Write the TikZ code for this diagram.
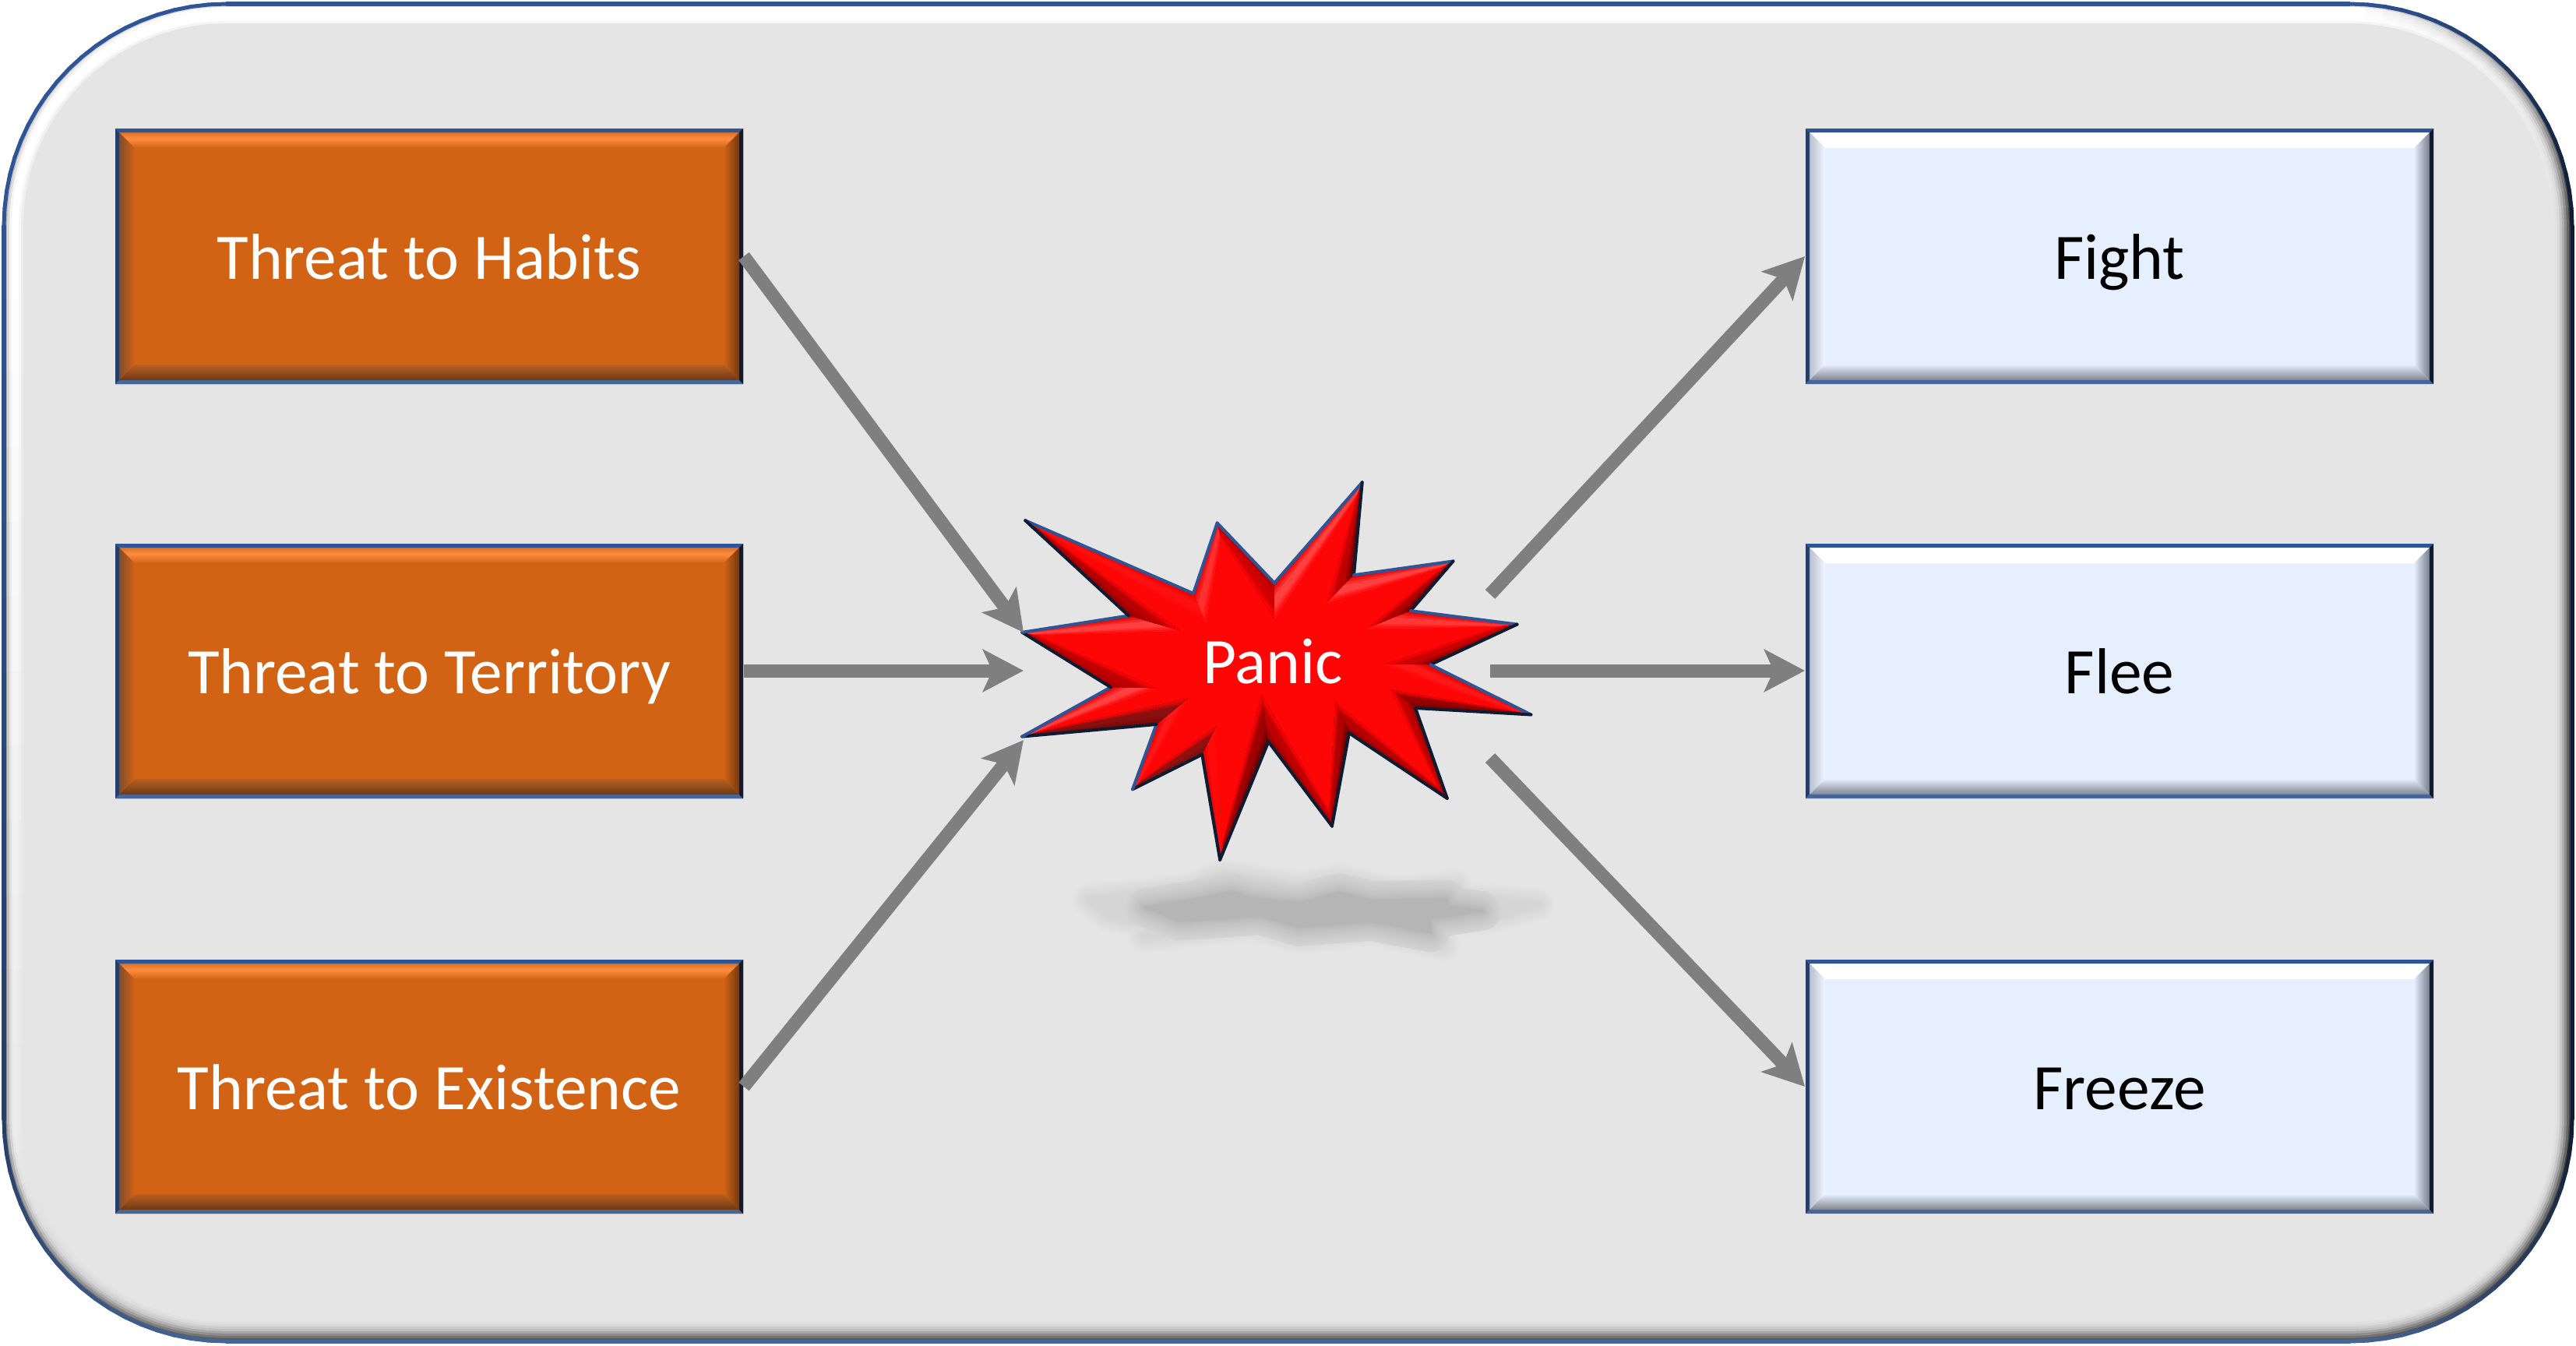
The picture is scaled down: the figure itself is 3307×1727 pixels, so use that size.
\documentclass[tikz,border=0pt]{standalone}
\usepackage{fontspec}
\setmainfont[Ligatures=NoCommon]{Carlito}
\usetikzlibrary{arrows.meta,calc}
\definecolor{edgeblue}{HTML}{2F5597}
\definecolor{edgenavy}{HTML}{0F1B30}
\definecolor{edgemid}{HTML}{466699}
\definecolor{edgeleft}{HTML}{263F68}
\definecolor{panelgray}{HTML}{E5E5E5}
\definecolor{orangeface}{HTML}{D26315}
\definecolor{orangelight}{HTML}{FF8C3E}
\definecolor{orangetop}{HTML}{C86012}
\definecolor{orangedark}{HTML}{5A3012}
\definecolor{orangeleft}{HTML}{9A4C12}
\definecolor{orangeband}{HTML}{B9601F}
\definecolor{blueface}{HTML}{E6EFFD}
\definecolor{bluepale}{HTML}{F2F7FF}
\definecolor{blueleft}{HTML}{A8B0C2}
\definecolor{bluedark}{HTML}{5A6270}
\definecolor{blueband}{HTML}{C8CEDA}
\definecolor{bluelow}{HTML}{767B85}
\definecolor{starface}{HTML}{FF0606}
\definecolor{arrowgray}{HTML}{7F7F7F}
\tikzset{
  x=0.01cm,y=-0.01cm,
  boxtext/.style={font=\fontsize{23.7pt}{28pt}\selectfont,text height=17pt,text depth=0pt},
  hazard/.style={boxtext,text=white,minimum width=8.06cm,minimum height=3.28cm,inner sep=0pt},
  response/.style={boxtext,text=black,minimum width=8.06cm,minimum height=3.28cm,inner sep=0pt},
  flow/.style={draw=arrowgray,line width=0.17cm,-{Stealth[length=0.52cm,width=0.54cm,inset=0.12cm,fill=arrowgray]}},
}
\newcommand{\boxedge}[5]{%
  \fill[#5] (#1,#2) -- ({#1+5},{#2+5}) -- ({#1+5},{#4-5}) -- (#1,#4) -- cycle;
  \fill[edgeblue] (#1,#2) -- (#3,#2) -- ({#3-5},{#2+5}) -- ({#1+5},{#2+5}) -- cycle;
  \fill[edgemid] (#1,#4) -- (#3,#4) -- ({#3-5},{#4-5}) -- ({#1+5},{#4-5}) -- cycle;
  \fill[edgenavy] (#3,#2) -- (#3,#4) -- ({#3-5},{#4-5}) -- ({#3-5},{#2+5}) -- cycle;}
% #1 left #2 top #3 right #4 bottom (pixels)
\newcommand{\orangebox}[4]{%
  \fill[orangeface] (#1,#2) rectangle (#3,#4);
  \begin{scope}
    \clip (#1,#2) -- (#3,#2) -- ({#3-25},{#2+25}) -- ({#1+25},{#2+25}) -- cycle;
    \shade[top color=orangetop,bottom color=orangelight] (#1,#2) rectangle (#3,{#2+13});
    \shade[top color=orangelight,bottom color=orangeface] (#1,{#2+13}) rectangle (#3,{#2+25});
  \end{scope}
  \shade[left color=edgeleft!40!orangeleft,right color=orangeface]
     (#1,#2) -- ({#1+25},{#2+25}) -- ({#1+25},{#4-25}) -- (#1,#4) -- cycle;
  \shade[right color=orangedark,left color=orangeface]
     (#3,#2) -- ({#3-25},{#2+25}) -- ({#3-25},{#4-25}) -- (#3,#4) -- cycle;
  \begin{scope}
    \clip (#1,#4) -- ({#1+25},{#4-25}) -- ({#3-25},{#4-25}) -- (#3,#4) -- cycle;
    \shade[top color=orangeband,bottom color=orangedark] (#1,{#4-25}) rectangle (#3,#4);
  \end{scope}
  \boxedge{#1}{#2}{#3}{#4}{edgeleft}}
\newcommand{\bluebox}[4]{%
  \fill[blueface] (#1,#2) rectangle (#3,#4);
  \fill[white] (#1,#2) -- (#3,#2) -- ({#3-25},{#2+25}) -- ({#1+25},{#2+25}) -- cycle;
  \shade[left color=blueleft,right color=bluepale]
     (#1,#2) -- ({#1+25},{#2+25}) -- ({#1+25},{#4-25}) -- (#1,#4) -- cycle;
  \shade[right color=bluedark,left color=blueface]
     (#3,#2) -- ({#3-25},{#2+25}) -- ({#3-25},{#4-25}) -- (#3,#4) -- cycle;
  \begin{scope}
    \clip (#1,#4) -- ({#1+25},{#4-25}) -- ({#3-25},{#4-25}) -- (#3,#4) -- cycle;
    \shade[top color=blueface,bottom color=bluelow] (#1,{#4-25}) rectangle (#3,{#4-3});
    \fill[bluelow] (#1,{#4-5}) rectangle (#3,#4);
  \end{scope}
  \boxedge{#1}{#2}{#3}{#4}{edgeleft}}
% star facet: outer a,b; inner c,d; edge colour; mid colour
\newcommand{\facet}[6]{%
  \definecolor{fe}{HTML}{#5}\definecolor{fm}{HTML}{#6}%
  \foreach \s/\c in {0/fe,0.12/fe!66!fm,0.24/fe!33!fm,0.36/fm,0.72/fm!70!starface,0.82/fm!40!starface,0.92/fm!15!starface}{
    \fill[\c] ($(#1)!\s!(#4)$) -- ($(#2)!\s!(#3)$) -- (#3) -- (#4) -- cycle;
  }}
% panel corner as short chords blending two colours
% cx cy r a0 a1 colA colB width
\newcommand{\cornerarc}[8]{%
  \foreach \k in {0,...,19}{
    \pgfmathsetmacro{\pa}{#4+(#5-#4)*\k/20}
    \pgfmathsetmacro{\pb}{#4+(#5-#4)*(\k+1)/20}
    \pgfmathsetmacro{\pmix}{100*\k/19}
    \draw[color=#7!\pmix!#6,line width=#8 cm,line cap=round]
      ({#1+#3*cos(\pa)},{#2-#3*sin(\pa)}) -- ({#1+#3*cos(\pb)},{#2-#3*sin(\pb)});
  }}
% left side of the panel, top colour to bottom colour; x colA colB width
\newcommand{\leftrun}[4]{%
  \foreach \k in {0,...,11}{
    \pgfmathsetmacro{\ya}{290+1147*\k/12}
    \pgfmathsetmacro{\yb}{290+1147*(\k+1)/12}
    \pgfmathsetmacro{\pmix}{100*\k/11}
    \draw[color=#3!\pmix!#2,line width=#4 cm,line cap=round] (#1,\ya) -- (#1,\yb);
  }}
% whole ring: inset, colours top, right, bottom, left-upper, left-lower, width
\newcommand{\panelring}[7]{%
  \pgfmathsetmacro{\rr}{285-#1}
  \draw[color=#2,line width=#7 cm] (290,{5+#1}) -- (3017,{5+#1});
  \draw[color=#3,line width=#7 cm] ({3302-#1},290) -- ({3302-#1},1437);
  \draw[color=#4,line width=#7 cm] (290,{1722-#1}) -- (3017,{1722-#1});
  \leftrun{{5+#1}}{#5}{#6}{#7}
  \cornerarc{290}{290}{\rr}{90}{180}{#2}{#5}{#7}
  \cornerarc{3017}{290}{\rr}{90}{0}{#2}{#3}{#7}
  \cornerarc{3017}{1437}{\rr}{0}{-90}{#3}{#4}{#7}
  \cornerarc{290}{1437}{\rr}{180}{270}{#6}{#4}{#7}}
\begin{document}
\begin{tikzpicture}
\useasboundingbox (0,0) rectangle (3307,1727);
\fill[white] (0,0) rectangle (3307,1727);
% ---- panel
\foreach \ins/\va/\vb/\vc/\vd/\ve in {
   3/0.88/0.25/0.35/0.72/0.55,
   6/1.00/0.40/0.45/0.86/0.72,
   9/1.00/0.55/0.55/0.96/0.85,
  12/1.00/0.68/0.65/1.00/0.92,
  15/1.00/0.78/0.75/1.00/0.93,
  18/1.00/0.85/0.80/1.00/0.92,
  21/1.00/0.88/0.85/0.97/0.91,
  24/0.96/0.90/0.88/0.93/0.90,
  27/0.90/0.90/0.90/0.90/0.90}{
  \definecolor{ra}{gray}{\va}\definecolor{rb}{gray}{\vb}\definecolor{rc}{gray}{\vc}
  \definecolor{rd}{gray}{\vd}\definecolor{re}{gray}{\ve}
  \panelring{\ins}{ra}{rb}{rc}{rd}{re}{0.04}
}
\fill[panelgray,rounded corners=2.57cm] (33,33) rectangle (3274,1694);
% panel outline
\draw[edgeblue,line width=0.05cm] (290,5) -- (3017,5);
\draw[edgenavy,line width=0.05cm] (3302,290) -- (3302,1437);
\draw[edgemid,line width=0.05cm] (290,1722) -- (3017,1722);
\leftrun{5}{edgeblue}{edgeleft}{0.05}
\cornerarc{290}{290}{285}{90}{180}{edgeblue}{edgeblue}{0.05}
\cornerarc{3017}{290}{285}{90}{0}{edgeblue}{edgenavy}{0.05}
\cornerarc{3017}{1437}{285}{0}{-90}{edgenavy}{edgemid}{0.05}
\cornerarc{290}{1437}{285}{180}{270}{edgeleft}{edgemid}{0.05}
% ---- boxes
\orangebox{148}{165}{954}{493}
\orangebox{148}{698}{954}{1025}
\orangebox{148}{1232}{954}{1558}
\bluebox{2318}{165}{3124}{493}
\bluebox{2318}{698}{3124}{1025}
\bluebox{2318}{1232}{3124}{1558}
\node[hazard] (habits) at (551,329) {Threat to Habits};
\node[hazard] (territory) at (551,861) {Threat to Territory};
\node[hazard] (existence) at (551,1395) {Threat to Existence};
\node[response] (fight) at (2721,329) {Fight};
\node[response] (flee) at (2721,861) {Flee};
\node[response] (freeze) at (2721,1395) {Freeze};
% ---- star shadow
\begin{scope}[shift={(1250,580)},x=0.0051cm,y=-0.00446cm]
  \foreach \w/\c in {0.44/0.5,0.41/1,0.38/1.5,0.35/2,0.32/2.5,0.29/3,0.26/3.5,0.23/4,0.20/4.5,0.17/5,0.14/5.5,0.11/6,0.08/6.5,0.05/7}{
    \filldraw[draw=black!\c!panelgray,fill=black!\c!panelgray,line width=\w cm,line join=round]
      (290,1290) -- (540,1260) -- (630,1220) -- (820,1255) -- (920,1232) -- (1060,1268) -- (1215,1250)
      -- (1222,1285) -- (1420,1303) -- (1300,1342) -- (1170,1350) -- (1180,1420) -- (1000,1375)
      -- (820,1400) -- (700,1362) -- (430,1395) -- (455,1360) -- (340,1335) -- cycle;
  }
  \foreach \w/\c in {0.50/8,0.45/9,0.40/10,0.35/11,0.30/12,0.26/13,0.22/14,0.18/15,0.14/16,0.11/17,0.08/18,0.05/19,0.02/21}{
    \filldraw[draw=black!\c!panelgray,fill=black!\c!panelgray,line width=\w cm,line join=round]
      (430,1312) -- (545,1292) -- (650,1268) -- (700,1285) -- (820,1300) -- (920,1270) -- (1000,1292) -- (1190,1288)
      -- (1200,1308) -- (1280,1322) -- (1150,1345) -- (1150,1385) -- (1000,1352) -- (820,1368) -- (720,1335) -- (520,1352) -- cycle;
  }
\end{scope}
% ---- star
\begin{scope}[shift={(1250,580)},x=0.0051cm,y=-0.00446cm]
  \coordinate (o1) at (130,198);  \coordinate (i1) at (170,228);
  \coordinate (o2) at (553,408);  \coordinate (i2) at (585,490);
  \coordinate (o3) at (613,205);  \coordinate (i3) at (622,245);
  \coordinate (o4) at (757,378);  \coordinate (i4) at (757,480);
  \coordinate (o5) at (978,88);   \coordinate (i5) at (966,125);
  \coordinate (o6) at (957,355);  \coordinate (i6) at (890,435);
  \coordinate (o7) at (1207,315); \coordinate (i7) at (1185,330);
  \coordinate (o8) at (1100,458); \coordinate (i8) at (990,510);
  \coordinate (o9) at (1368,497); \coordinate (i9) at (1325,503);
  \coordinate (o10) at (1150,613);\coordinate (i10) at (1030,613);
  \coordinate (o11) at (1403,757);\coordinate (i11) at (1360,748);
  \coordinate (o12) at (1112,738);\coordinate (i12) at (1050,685);
  \coordinate (o13) at (1192,998);\coordinate (i13) at (1172,970);
  \coordinate (o14) at (945,810); \coordinate (i14) at (910,720);
  \coordinate (o15) at (902,1078);\coordinate (i15) at (895,1035);
  \coordinate (o16) at (742,835); \coordinate (i16) at (725,700);
  \coordinate (o17) at (620,1175);\coordinate (i17) at (625,1135);
  \coordinate (o18) at (575,872); \coordinate (i18) at (610,790);
  \coordinate (o19) at (400,972); \coordinate (i19) at (418,950);
  \coordinate (o20) at (460,785); \coordinate (i20) at (540,710);
  \coordinate (o21) at (122,820); \coordinate (i21) at (155,808);
  \coordinate (o22) at (345,678); \coordinate (i22) at (460,680);
  \coordinate (o23) at (122,520); \coordinate (i23) at (155,527);
  \coordinate (o24) at (390,472); \coordinate (i24) at (520,515);
  \fill[starface] (o1) -- (o2) -- (o3) -- (o4) -- (o5) -- (o6) -- (o7) -- (o8) -- (o9) -- (o10) -- (o11) -- (o12)
     -- (o13) -- (o14) -- (o15) -- (o16) -- (o17) -- (o18) -- (o19) -- (o20) -- (o21) -- (o22) -- (o23) -- (o24) -- cycle;
  \facet{o1}{o2}{i2}{i1}{E80000}{FF1010}
  \facet{o2}{o3}{i3}{i2}{E80000}{FF3030}
  \facet{o3}{o4}{i4}{i3}{B00000}{D00000}
  \facet{o4}{o5}{i5}{i4}{E80000}{FF4040}
  \facet{o5}{o6}{i6}{i5}{5A0000}{C00000}
  \facet{o6}{o7}{i7}{i6}{E80000}{FF4040}
  \facet{o7}{o8}{i8}{i7}{600000}{B00000}
  \facet{o8}{o9}{i9}{i8}{E80000}{FF3838}
  \facet{o9}{o10}{i10}{i9}{7A0000}{C80000}
  \facet{o10}{o11}{i11}{i10}{E00000}{FF1818}
  \facet{o11}{o12}{i12}{i11}{700000}{980000}
  \facet{o12}{o13}{i13}{i12}{8A0000}{C00000}
  \facet{o13}{o14}{i14}{i13}{8A0000}{B80000}
  \facet{o14}{o15}{i15}{i14}{600000}{B00000}
  \facet{o15}{o16}{i16}{i15}{900000}{C00000}
  \facet{o16}{o17}{i17}{i16}{600000}{A00000}
  \facet{o17}{o18}{i18}{i17}{E00000}{FF0A0A}
  \facet{o18}{o19}{i19}{i18}{6E1010}{901010}
  \facet{o19}{o20}{i20}{i19}{E80000}{FF1818}
  \facet{o20}{o21}{i21}{i20}{700808}{8A1010}
  \facet{o21}{o22}{i22}{i21}{E80000}{FF4040}
  \facet{o22}{o23}{i23}{i22}{A00000}{C00000}
  \facet{o23}{o24}{i24}{i23}{E00000}{FF4040}
  \facet{o24}{o1}{i1}{i24}{900000}{B80000}
  \foreach \a/\b/\c in {o1/o2/edgeblue,o2/o3/edgeblue,o3/o4/edgeblue,o4/o5/edgeblue,o5/o6/edgenavy,
      o6/o7/edgeblue,o7/o8/edgenavy,o8/o9/edgeblue,o9/o10/edgenavy,o10/o11/edgeblue,o11/o12/edgenavy,
      o12/o13/edgenavy,o13/o14/edgenavy,o14/o15/edgenavy,o15/o16/edgenavy,o16/o17/edgenavy,
      o17/o18/edgenavy,o18/o19/edgenavy,o19/o20/edgeblue,o20/o21/edgenavy,o21/o22/edgeblue,
      o22/o23/edgenavy,o23/o24/edgeblue,o24/o1/edgenavy}{
    \draw[\c,line width=0.04cm,line cap=round,line join=round] (\a) -- (\b);
  }
\end{scope}
\node[boxtext,text=white,inner sep=0pt] (panic) at (1634,848) {Panic};
% ---- connectors
\coordinate (inA) at (1314,812);
\coordinate (inB) at (1314,861);
\coordinate (inC) at (1314,950);
\coordinate (outA) at (1913,763);
\coordinate (outB) at (1913,861);
\coordinate (outC) at (1913,973);
\draw[flow] (habits.east) -- (inA);
\draw[flow] (territory.east) -- (inB);
\draw[flow] (existence.east) -- (inC);
\draw[flow] (outA) -- (fight.west);
\draw[flow] (outB) -- (flee.west);
\draw[flow] (outC) -- (freeze.west);
\end{tikzpicture}
\end{document}
